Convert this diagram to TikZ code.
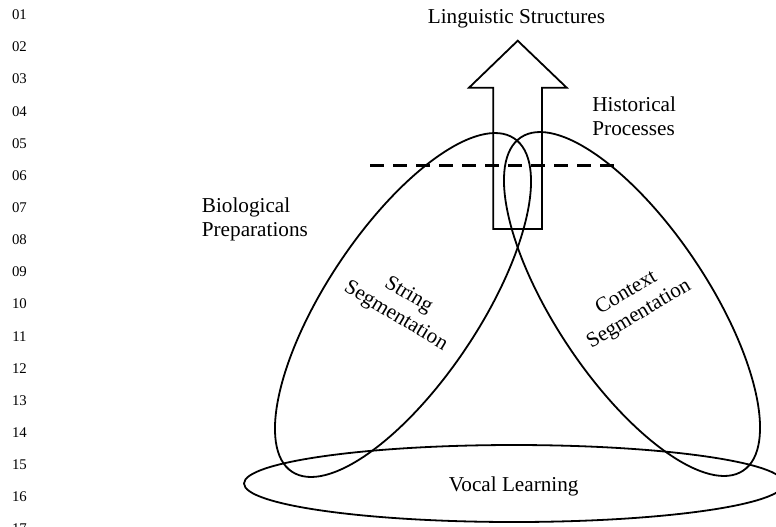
\documentclass[tikz,border=0pt]{standalone}
\usepackage{fontspec}
\setmainfont{Liberation Serif}
\begin{document}
\begin{tikzpicture}[x=0.5pt,y=-0.5pt,
  shape line/.style={line width=0.9pt},
  lbl/.style={inner sep=0pt, font=\fontsize{10.6}{11.8}\selectfont},
  rotlbl/.style={inner sep=0pt, align=center, font=\fontsize{10.6}{12.4}\selectfont},
  numlbl/.style={inner sep=0pt, anchor=base, font=\fontsize{7.4}{8}\selectfont},
  dashline/.style={line width=1.5pt, dash pattern=on 7pt off 4.5pt}]
\useasboundingbox (0,0) rectangle (776,526);
\clip (0,0) rectangle (776,526);
% line numbers
\foreach \n [count=\i from 0] in {01,02,03,04,05,06,07,08,09,10,11,12,13,14,15,16,17}
  \node[numlbl] (num\n) at (19.5,{19.7+\i*32.13}) {\n};
% ellipses
\draw[shape line, rotate around={56.3:(403,305)}] (403,305) ellipse [x radius=200.3, y radius=76.4];
\draw[shape line, rotate around={-56.3:(632,304)}] (632,304) ellipse [x radius=200.3, y radius=76.4];
\draw[shape line] (514,483.5) ellipse [x radius=270, y radius=38.5];
% arrow
\draw[shape line, line join=miter] (517.7,40.7) -- (566.7,87.7) -- (542,87.7) -- (542,229)
  -- (493.3,229) -- (493.3,87.7) -- (469,87.7) -- cycle;
% dashed line
\draw[dashline] (370,165.7) -- (616,165.7);
% labels
\node[lbl, anchor=base] (ling) at (516.5,23) {Linguistic Structures};
\node[lbl, anchor=base west] (hist1) at (592,111.7) {Historical};
\node[lbl, anchor=base west] (hist2) at (592,135.7) {Processes};
\node[lbl, anchor=base west] (bio1) at (201.5,212.7) {Biological};
\node[lbl, anchor=base west] (bio2) at (201.5,236.7) {Preparations};
\node[rotlbl, rotate=-31] (string) at (402,306) {String\\Segmentation};
\node[rotlbl, rotate=30.5] (context) at (633,304) {Context\\Segmentation};
\node[lbl, anchor=base] (vocal) at (513.7,491.7) {Vocal Learning};
\end{tikzpicture}
\end{document}
